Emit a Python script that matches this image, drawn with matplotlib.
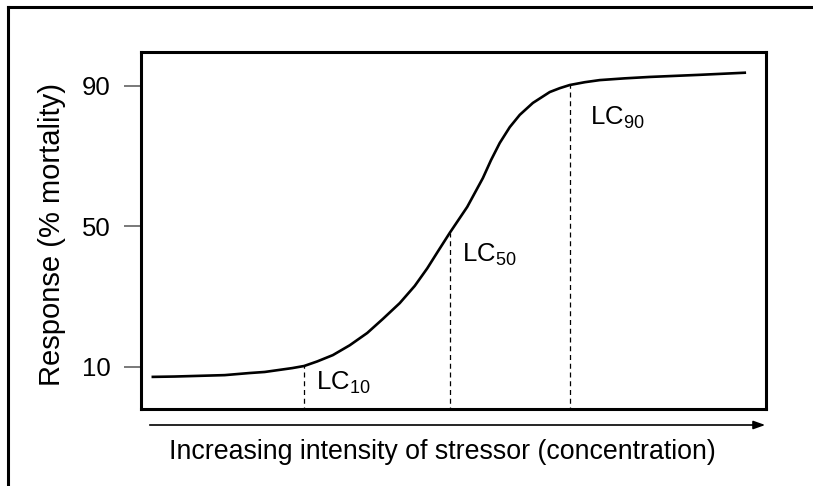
import matplotlib
matplotlib.use("Agg")
import matplotlib.pyplot as plt
from matplotlib.lines import Line2D

plt.rcParams['font.family'] = ['Liberation Sans', 'DejaVu Sans']
plt.rcParams['mathtext.fontset'] = 'custom'
plt.rcParams['mathtext.rm'] = 'Liberation Sans'
plt.rcParams['mathtext.it'] = 'Liberation Sans:italic'

# dose-response curve (x: 0-100 arbitrary, y: % mortality)
conc = [1.9, 5.4, 9.4, 13.4, 17.4, 19.8, 22.2, 24.2, 26.1, 28.2, 30.7, 33.4,
        36.2, 38.7, 41.4, 43.8, 45.8, 47.5, 49.4, 52.2, 54.7, 56.0, 57.4, 59.0,
        60.6, 62.7, 65.4, 67.0, 68.6, 71.0, 73.4, 77.4, 81.4, 85.4, 89.4, 93.0, 96.6]
resp = [7.1, 7.2, 7.4, 7.6, 8.2, 8.5, 9.1, 9.6, 10.2, 11.5, 13.3, 16.1,
        19.6, 23.6, 28.1, 33.0, 38.0, 42.8, 48.1, 55.5, 63.7, 68.8, 73.7, 78.2,
        81.7, 85.1, 88.2, 89.3, 90.2, 91.0, 91.6, 92.1, 92.5, 92.8, 93.1, 93.4, 93.7]

lc_names = ['10', '50', '90']
lc_x = [26.1, 49.4, 68.6]
lc_y = [10.2, 48.1, 90.2]
lc_label_x = [28.0, 51.3, 71.8]
lc_label_y = [3.4, 39.9, 78.8]

yticks = [10, 50, 90]

fig = plt.figure(figsize=(8.13, 4.86), dpi=100)
ax = fig.add_axes([0.1734, 0.1584, 0.9422 - 0.1734, 0.893 - 0.1584])

ax.plot(conc, resp, color='black', lw=1.9, solid_joinstyle='round')
for n, x, y, tx, ty in zip(lc_names, lc_x, lc_y, lc_label_x, lc_label_y):
    ax.plot([x, x], [-3, y], color='black', lw=0.9, ls=(0, (4, 3)))
    ax.text(tx, ty, r'LC$_{\mathrm{%s}}$' % n, fontsize=18.5, va='baseline', ha='left')

ax.set_xlim(0, 100)
ax.set_ylim(-2.05, 99.6)
ax.set_xticks([])
ax.set_yticks(yticks)
ax.set_yticklabels([str(t) for t in yticks], fontsize=18.5)
ax.tick_params(axis='y', length=12, width=1.1, color='#555555', pad=10)
for s in ax.spines.values():
    s.set_linewidth(2.2)

# outer frame (only left/top visible)
fig.add_artist(Line2D([8 / 813, 8 / 813], [0, 1 - 7 / 486], color='black', lw=2.2))
fig.add_artist(Line2D([8 / 813, 1], [1 - 7 / 486, 1 - 7 / 486], color='black', lw=2.2))

# concentration arrow
fig.add_artist(Line2D([150 / 813, 760 / 813], [1 - 425 / 486, 1 - 425 / 486], color='black', lw=1.2))
ax.annotate('', xy=(768 / 813, 1 - 425 / 486), xytext=(755 / 813, 1 - 425 / 486),
            xycoords='figure fraction', textcoords='figure fraction',
            arrowprops=dict(arrowstyle='-|>,head_length=0.7,head_width=0.25', color='black', lw=1.2))

fig.text(442 / 813, 1 - 452 / 486, 'Increasing intensity of stressor (concentration)',
         fontsize=19.3, ha='center', va='center')
fig.text(52 / 813, 1 - 234 / 486, 'Response (% mortality)', fontsize=21,
         rotation=90, ha='center', va='center')

fig.savefig('out.png', dpi=100)
